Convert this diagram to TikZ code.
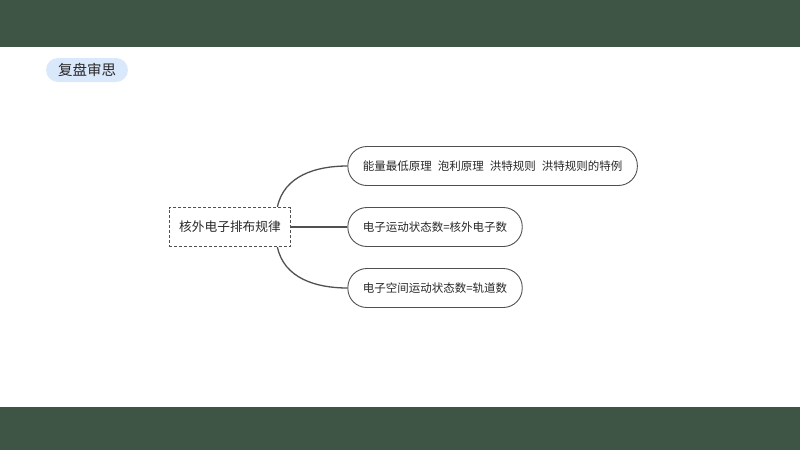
\documentclass[tikz,border=0pt]{standalone}
\usepackage{fontspec}
\setmainfont{Noto Sans CJK SC}
\usepackage{tikz}
\usetikzlibrary{positioning}
\definecolor{bargreen}{RGB}{62,84,68}
\definecolor{badgeblue}{RGB}{218,232,251}
\definecolor{inkgray}{RGB}{40,40,40}
\definecolor{linegray}{RGB}{80,80,80}
\tikzset{
every node/.style={text=inkgray}, % default text colour
topic/.style={draw=linegray, dash pattern=on 3pt off 2pt, line width=1.2pt, inner xsep=10pt, minimum height=39pt, font=\fontsize{12.7}{14}\selectfont}, % the central dashed box
leaf/.style={draw=linegray, line width=0.9pt, rounded corners=19pt, minimum height=39pt, inner xsep=15pt, font=\fontsize{11.5}{13}\selectfont}, % the pill shaped boxes
branch/.style={draw=linegray, line width=1.3pt}, % the connectors
}
\begin{document}
\begin{tikzpicture}[x=1pt, y=-1pt]
      \useasboundingbox (0,0) rectangle (800,450);
      \fill[bargreen] (0,0) rectangle (800,47);
      \fill[bargreen] (0,407) rectangle (800,450);
      \node[fill=badgeblue, rounded corners=12pt, minimum width=82pt, minimum height=24pt, font=\fontsize{14.5}{16}\selectfont] (badge) at (87,70) {复盘审思};

      \node[topic] (rule) at (230,227) {核外电子排布规律};
      \node[leaf, right=56pt of rule, yshift=61pt] (order) {能量最低原理\hspace{6pt}泡利原理\hspace{6pt}洪特规则\hspace{6pt}洪特规则的特例};
      \node[leaf, right=56pt of rule] (count) {电子运动状态数=核外电子数};
      \node[leaf, right=56pt of rule, yshift=-61pt] (orbit) {电子空间运动状态数=轨道数};

      \draw[branch] ([xshift=-14pt]rule.north east) to[out=78, in=180] (order.west);
      \draw[branch] (rule.east) -- (count.west);
      \draw[branch] ([xshift=-14pt]rule.south east) to[out=-78, in=180] (orbit.west);
\end{tikzpicture}
\end{document}
